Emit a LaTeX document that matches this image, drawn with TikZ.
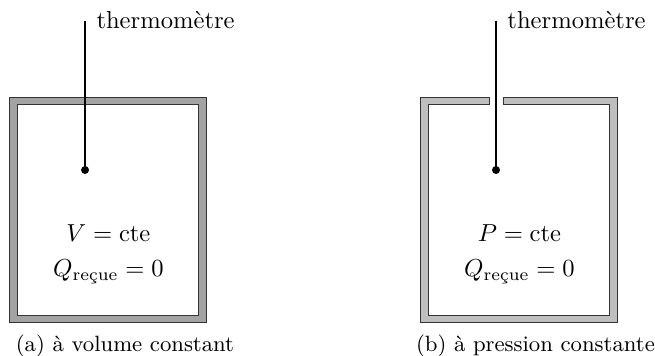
\documentclass[tikz,border=0pt]{standalone}
\usepackage{amsmath}
\tikzset{
    wallA/.style={draw=black!80, fill=black!36, line width=0.4pt, even odd rule},
    wallB/.style={draw=black!80, fill=black!25, line width=0.4pt},
    stem/.style={line width=0.95pt},
    textnode/.style={inner sep=0pt, anchor=base},
}
\begin{document}
\begin{tikzpicture}
\useasboundingbox (0,0) rectangle (9.36,5.087);
% left wall, closed
\draw[wallA] (0.136,0.472) rectangle (2.944,3.70) (0.243,0.579) rectangle (2.837,3.593);
% right wall, open above the thermometer
\begin{scope}[xshift=5.873cm]
    \draw[wallB] (1.122,3.70) -- (0.136,3.70) -- (0.136,0.472) -- (2.944,0.472) -- (2.944,3.70) -- (1.322,3.70)
        -- (1.322,3.593) -- (2.837,3.593) -- (2.837,0.579) -- (0.243,0.579) -- (0.243,3.593) -- (1.122,3.593) -- cycle;
\end{scope}
\foreach \n/\x/\q in {A/0/V,B/5.873/P} {
    \begin{scope}[xshift=\x cm]
        \coordinate (top\n) at (1.215,4.787);
        \coordinate (bulb\n) at (1.215,2.658);
        \draw[stem] (top\n) -- (bulb\n);
        \fill (bulb\n) circle (0.057);
        \node[textnode, anchor=base west] (therm\n) at (1.372,4.673) {thermomètre};
        \node[textnode] (const\n) at (1.55,1.643) {$\q = \mathrm{cte}$};
        \node[textnode] (heat\n) at (1.55,1.129) {$Q_{\text{reçue}} = 0$};
    \end{scope}}
\node[textnode, font=\small] (captionA) at (1.786,0.06) {(a) à volume constant};
\node[textnode, font=\small] (captionB) at (7.652,0.06) {(b) à pression constante};
\end{tikzpicture}
\end{document}
